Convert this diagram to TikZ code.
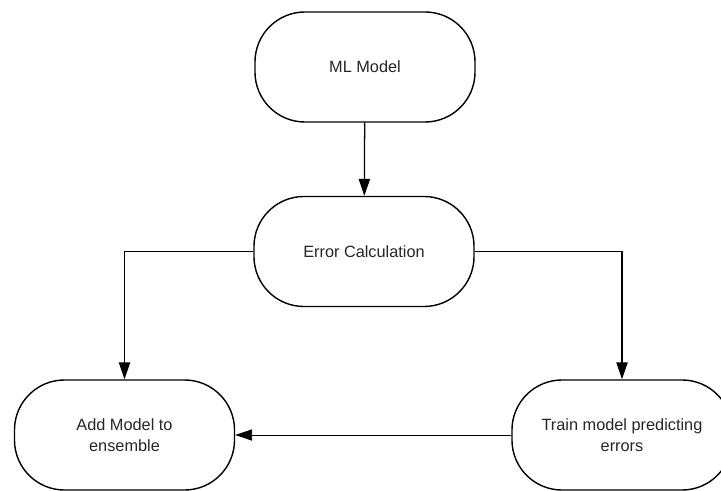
\documentclass[tikz,border=0pt]{standalone}
\usepackage{fontspec}
\setmainfont{Liberation Sans}
\usetikzlibrary{arrows.meta}

\begin{document}
\begin{tikzpicture}[x=0.025cm,y=-0.025cm,
	stage/.style={draw,line width=1pt,rounded corners=1.25cm,
		minimum width=5.5cm,minimum height=2.75cm,align=center,
		font=\fontsize{11.6}{14.5}\selectfont,text=black!85},
	link/.style={line width=0.9pt,-{Triangle[length=12pt,width=8pt]}}]
	\useasboundingbox (0,0) rectangle (721,491);
	\clip (0,0) rectangle (721,491);
	\node[stage] (ml) at (365,67) {ML Model};
	\node[stage] (err) at (364,251.5) {Error Calculation};
	\node[stage] (add) at (124.5,435) {Add Model to\\ensemble};
	\node[stage] (train) at (622,435) {Train model predicting\\errors};
	\draw[link] (ml) -- (err);
	\draw[link] (err.west) -| (add.north);
	\draw[link] (err.east) -| (train.north);
	\draw[link,line width=0.6pt] (train) -- (add);
\end{tikzpicture}
\end{document}
